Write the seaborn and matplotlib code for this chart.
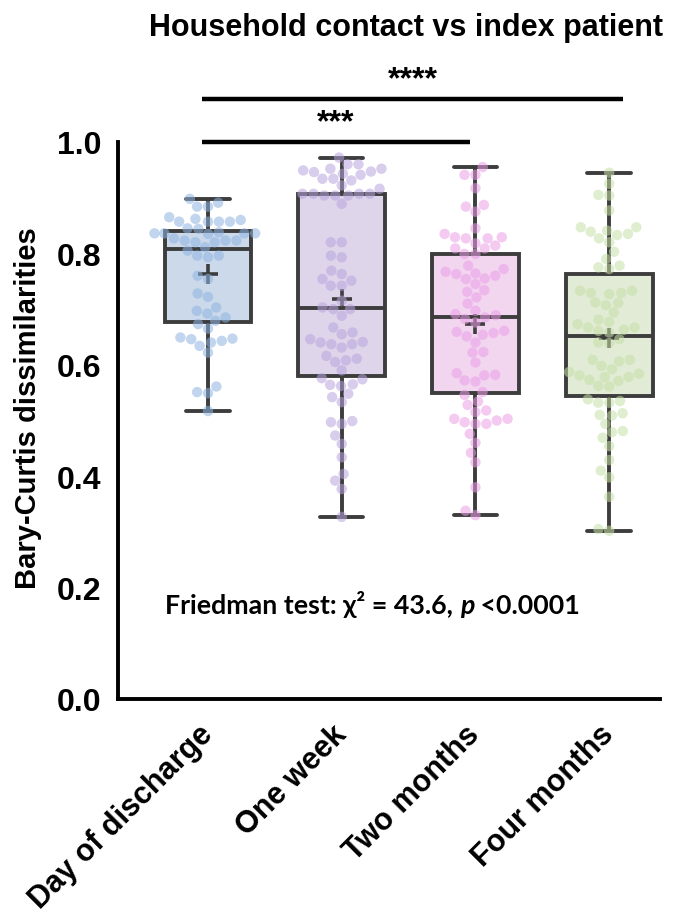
import numpy as np
import pandas as pd
import matplotlib
matplotlib.use("Agg")
import matplotlib.pyplot as plt
import seaborn as sns

# values (Bray-Curtis dissimilarities per time point)
groups = ["Day of discharge", "One week", "Two months", "Four months"]

day_of_discharge = [
    0.898, 0.891, 0.884, 0.884, 0.865, 0.862, 0.860, 0.857, 0.857, 0.857,
    0.857, 0.845, 0.844, 0.838, 0.836, 0.836, 0.836, 0.836, 0.835, 0.827,
    0.823, 0.823, 0.823, 0.820, 0.820, 0.811, 0.805, 0.796, 0.796, 0.793,
    0.760, 0.754, 0.728, 0.722, 0.703, 0.697, 0.692, 0.685, 0.679, 0.673,
    0.665, 0.649, 0.647, 0.646, 0.643, 0.640, 0.634, 0.622, 0.561, 0.551,
    0.549, 0.517,
]
one_week = [
    0.972, 0.960, 0.960, 0.952, 0.952, 0.949, 0.947, 0.946, 0.943, 0.941,
    0.934, 0.934, 0.931, 0.922, 0.916, 0.907, 0.907, 0.907, 0.907, 0.904,
    0.904, 0.904, 0.889, 0.820, 0.820, 0.796, 0.793, 0.769, 0.763, 0.754,
    0.751, 0.742, 0.742, 0.715, 0.703, 0.700, 0.700, 0.688, 0.667, 0.658,
    0.655, 0.646, 0.641, 0.640, 0.637, 0.637, 0.631, 0.616, 0.611, 0.608,
    0.605, 0.590, 0.576, 0.574, 0.565, 0.564, 0.562, 0.548, 0.542, 0.533,
    0.499, 0.497, 0.494, 0.473, 0.458, 0.434, 0.404, 0.392, 0.377, 0.327,
]
two_months = [
    0.955, 0.941, 0.941, 0.917, 0.887, 0.884, 0.875, 0.845, 0.835, 0.829,
    0.829, 0.827, 0.827, 0.818, 0.814, 0.809, 0.809, 0.799, 0.799, 0.778,
    0.772, 0.767, 0.764, 0.763, 0.760, 0.755, 0.754, 0.745, 0.734, 0.731,
    0.721, 0.710, 0.697, 0.691, 0.689, 0.685, 0.682, 0.676, 0.661, 0.659,
    0.657, 0.654, 0.651, 0.640, 0.623, 0.622, 0.604, 0.585, 0.582, 0.581,
    0.572, 0.570, 0.551, 0.546, 0.534, 0.528, 0.518, 0.515, 0.503, 0.503,
    0.500, 0.497, 0.494, 0.494, 0.476, 0.460, 0.442, 0.425, 0.380, 0.338,
    0.330,
]
four_months = [
    0.945, 0.925, 0.905, 0.904, 0.877, 0.847, 0.847, 0.841, 0.839, 0.835,
    0.833, 0.827, 0.820, 0.803, 0.790, 0.778, 0.775, 0.772, 0.733, 0.733,
    0.729, 0.727, 0.729, 0.711, 0.707, 0.712, 0.694, 0.681, 0.677, 0.673,
    0.667, 0.661, 0.667, 0.663, 0.658, 0.646, 0.640, 0.639, 0.609, 0.606,
    0.598, 0.592, 0.609, 0.581, 0.578, 0.584, 0.587, 0.573, 0.571, 0.578,
    0.562, 0.561, 0.532, 0.538, 0.535, 0.532, 0.513, 0.509, 0.510, 0.494,
    0.479, 0.481, 0.469, 0.454, 0.429, 0.410, 0.398, 0.363, 0.302, 0.305,
]

box_colors = ["#c6d9ef", "#ddd1ef", "#f6d2f4", "#e2efd1"]
dot_colors = ["#8fb4e3", "#b9a4dd", "#eb9fe7", "#c6e0a6"]

df = pd.DataFrame({
    "group": np.repeat(groups, [len(day_of_discharge), len(one_week),
                                len(two_months), len(four_months)]),
    "value": day_of_discharge + one_week + two_months + four_months,
})

sns.set_style("white")
plt.rcParams["font.family"] = ["Liberation Sans", "DejaVu Sans"]
plt.rcParams.update({"text.color": "black", "axes.labelcolor": "black",
                     "xtick.color": "black", "ytick.color": "black"})

fig = plt.figure(figsize=(6.97, 9.2), dpi=100)
ax = fig.add_axes([118 / 697, 220 / 920, 542 / 697, 557 / 920])

line_col = "#3d3d3d"
sns.boxplot(data=df, x="group", y="value", hue="group", order=groups,
            palette=box_colors, width=0.65, whis=(0, 100), showfliers=False,
            linecolor=line_col, linewidth=2.8, showmeans=True,
            meanprops=dict(marker="+", markeredgecolor=line_col,
                           markersize=14, markeredgewidth=2.6),
            legend=False, ax=ax)
sns.swarmplot(data=df, x="group", y="value", hue="group", order=groups,
              palette=dot_colors, size=7.5, alpha=0.55, linewidth=0,
              legend=False, ax=ax)

ax.set_ylim(0, 1.0)
ax.set_xlim(-0.673, 3.38)
ax.set_yticks([0, 0.2, 0.4, 0.6, 0.8, 1.0])
ax.set_yticklabels(["0.0", "0.2", "0.4", "0.6", "0.8", "1.0"])
ax.set_xlabel("")
ax.set_ylabel("")
for s in ["top", "right"]:
    ax.spines[s].set_visible(False)
for s in ["left", "bottom"]:
    ax.spines[s].set_linewidth(2.8)
    ax.spines[s].set_color("black")
ax.tick_params(axis="both", length=9, width=2.6, color="black",
               labelsize=23, pad=3)
ax.tick_params(axis="x", pad=13)
for lab in ax.get_yticklabels():
    lab.set_fontweight("bold")
ax.set_xticks(range(4))
ax.set_xticklabels(groups, rotation=45, ha="right", va="center",
                   rotation_mode="anchor", fontsize=22, fontweight="bold")

# significance bars
ax.plot([-0.045, 1.96], [1.0, 1.0], color="black", lw=3.2, clip_on=False,
        solid_capstyle="butt")
ax.plot([-0.045, 3.1], [1.077, 1.077], color="black", lw=3.2, clip_on=False,
        solid_capstyle="butt")
ax.text(0.957, 1.008, "***", ha="center", va="bottom", fontsize=23,
        fontweight="bold")
ax.text(1.53, 1.085, "****", ha="center", va="bottom", fontsize=23,
        fontweight="bold")

# Friedman annotation
fkw = dict(fontsize=19.3, fontweight="bold", family=["Lato", "Noto Sans"])
t1 = ax.text(-0.32, 0.172, "Friedman test: \u03c7\u00b2 = 43.6, ",
             ha="left", va="center", **fkw)
t2 = ax.annotate("p", xy=(1, 0), xycoords=t1, ha="left", va="bottom",
                 fontstyle="italic", **fkw)
ax.annotate(" <0.0001", xy=(1, 0), xycoords=t2, ha="left", va="bottom", **fkw)

fig.text(406 / 697, 1 - 28 / 920, "Household contact vs index patient",
         ha="center", va="center", fontsize=22, fontweight="bold")
fig.text(28 / 697, 1 - 408 / 920, "Bary-Curtis dissimilarities",
         ha="center", va="center", rotation=90, fontsize=21,
         fontweight="bold")

fig.savefig("out.png", dpi=100)
